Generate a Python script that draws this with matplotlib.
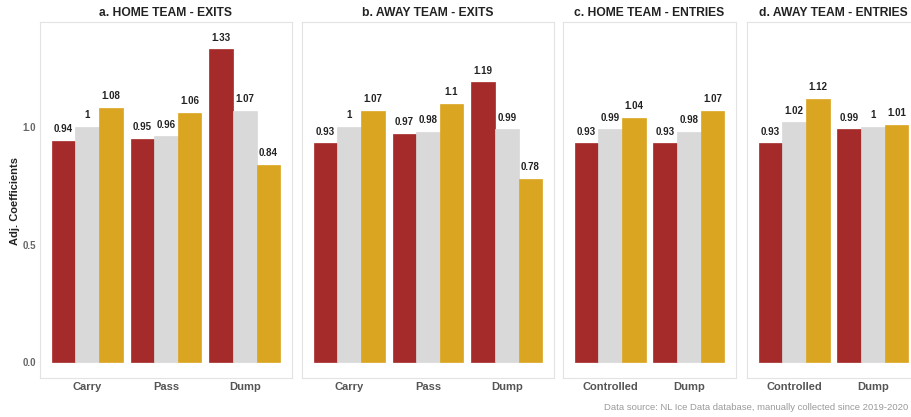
import matplotlib
matplotlib.use("Agg")
import matplotlib.pyplot as plt
import numpy as np

plt.rcParams['font.family'] = ['Liberation Sans', 'DejaVu Sans']

titles = ["a. HOME TEAM - EXITS", "b. AWAY TEAM - EXITS",
          "c. HOME TEAM - ENTRIES", "d. AWAY TEAM - ENTRIES"]
cats_exits = ["Carry", "Pass", "Dump"]
cats_entries = ["Controlled", "Dump"]

# series values: [first (red), second (grey), third (gold)] per category
a_vals = [[0.94, 1.00, 1.08], [0.95, 0.96, 1.06], [1.33, 1.07, 0.84]]
b_vals = [[0.93, 1.00, 1.07], [0.97, 0.98, 1.10], [1.19, 0.99, 0.78]]
c_vals = [[0.93, 0.99, 1.04], [0.93, 0.98, 1.07]]
d_vals = [[0.93, 1.02, 1.12], [0.99, 1.00, 1.01]]

panels = [(titles[0], cats_exits, a_vals), (titles[1], cats_exits, b_vals),
          (titles[2], cats_entries, c_vals), (titles[3], cats_entries, d_vals)]

colors = ["#A52A2A", "#D9D9D9", "#DAA520"]
W, H = 912, 417
fig = plt.figure(figsize=(W / 100, H / 100), dpi=100)

# pixel frames (left, right)
frames = [(40, 292), (302, 554), (563, 736), (747, 920)]
top_px, bot_px = 22, 378
ymin, ymax = -0.068, 1.447

for i, ((title, cats, vals), (l, r)) in enumerate(zip(panels, frames)):
    ax = fig.add_axes([l / W, 1 - bot_px / H, (r - l) / W, (bot_px - top_px) / H])
    n = len(cats)
    x = np.arange(1, n + 1)
    bw = 0.3
    for s in range(3):
        heights = [v[s] for v in vals]
        xs = x + (s - 1) * bw
        ax.bar(xs, heights, width=bw, color=colors[s], edgecolor=colors[s],
               linewidth=0.5, zorder=2)
        for xi, h in zip(xs, heights):
            ax.text(xi, h + 0.05, f"{h:g}", ha="center", va="center",
                    fontsize=7, fontweight="bold", color="#222222")
    ax.set_xlim(0.4, n + 0.6)
    ax.set_ylim(ymin, ymax)
    ax.set_xticks(x)
    ax.set_xticklabels(cats, fontsize=8, fontweight="bold", color="#555555")
    ax.tick_params(axis="both", length=0, pad=3)
    for sp in ax.spines.values():
        sp.set_color("#E3E3E3")
        sp.set_linewidth(0.8)
    ax.set_title(title, fontsize=8.7, fontweight="bold", color="#222222", pad=4)
    if i == 0:
        ax.set_yticks([0.0, 0.5, 1.0])
        ax.set_yticklabels(["0.0", "0.5", "1.0"], fontsize=7, fontweight="bold",
                           color="#666666")
        ax.tick_params(axis="y", pad=3)
    else:
        ax.set_yticks([])

fig.text(15 / W, 1 - 201 / H, "Adj. Coefficients", rotation=90,
         fontsize=8, fontweight="bold", color="#222222", ha="center", va="center")

fig.text(908 / W, 1 - 408 / H,
         "Data source: NL Ice Data database, manually collected since 2019-2020",
         fontsize=6.8, color="#9A9A9A", ha="right", va="center")

fig.savefig("out.png", dpi=100)
